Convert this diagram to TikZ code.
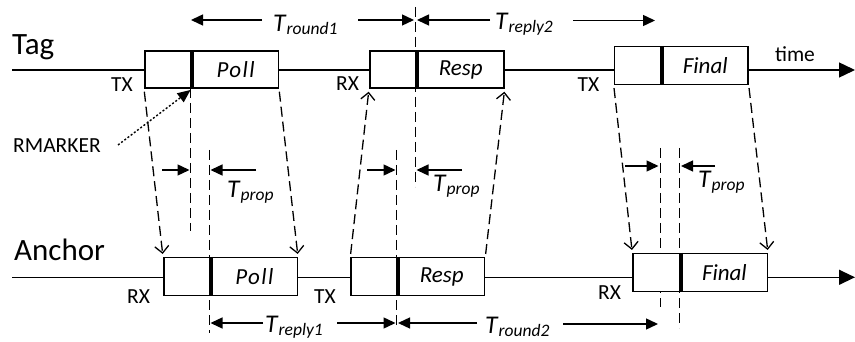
\documentclass[tikz,border=0pt]{standalone}
\usepackage{fontspec}
\setmainfont{Carlito}
\usetikzlibrary{arrows.meta}
\newcommand\Tlab[1]{\textit{T}\raisebox{-3pt}{\fontsize{17.5}{17.5}\selectfont\itshape #1}}
\newcommand\spaced[1]{{\addfontfeatures{LetterSpace=6}#1}}
\begin{document}
\begin{tikzpicture}[x=1pt,y=-1pt,
  timeaxis/.style={line width=1.4pt,-{Triangle[length=16pt,width=15pt]}},
  seg/.style={draw,line width=1.5pt,fill=white,inner sep=0pt,anchor=west,font=\fontsize{23}{23}\selectfont\itshape},
  divider/.style={line width=4pt},
  vdash/.style={line width=1.3pt,dash pattern=on 10pt off 5pt},
  sig/.style={line width=1.3pt,dash pattern=on 10pt off 5pt,shorten <=3pt,shorten >=3pt,-{Straight Barb[length=7pt,width=14pt,line width=1.3pt]}},
  meas/.style={line width=1.4pt,-{Triangle[length=12pt,width=11pt]}},
  dotarrow/.style={line width=1.4pt,dash pattern=on 2pt off 2pt,shorten >=2pt,-{Triangle[length=13pt,width=11pt]}},
  big/.style={font=\fontsize{31}{31}\selectfont,inner sep=0pt},
  small/.style={font=\fontsize{21.5}{21.5}\selectfont,inner sep=0pt},
  tlab/.style={font=\fontsize{25.5}{25.5}\selectfont,inner sep=0pt,anchor=base west},
]
\useasboundingbox (0,0) rectangle (855,342);

% time axes
\coordinate (tag0) at (12,70);
\coordinate (tagE) at (855,70);
\coordinate (anc0) at (12,277.3);
\coordinate (ancE) at (855,277.3);
\draw[timeaxis] (tag0) -- (tagE);
\draw[timeaxis] (anc0) -- (ancE);

% vertical dashed reference lines (drawn under the boxes)
\coordinate (d1t) at (190.7,88);
\coordinate (d1b) at (190.7,231);
\coordinate (d2t) at (209.3,150);
\coordinate (d2b) at (209.3,333);
\coordinate (d3t) at (415.3,7);
\coordinate (d3b) at (415.3,187);
\coordinate (d4t) at (396.7,150);
\coordinate (d4b) at (396.7,327);
\coordinate (d5t) at (660.3,148);
\coordinate (d5b) at (660.3,307);
\coordinate (d6t) at (679.3,148);
\coordinate (d6b) at (679.3,328);
\draw[vdash] (d1t) -- (d1b);
\draw[vdash] (d2t) -- (d2b);
\draw[vdash] (d3t) -- (d3b);
\draw[vdash] (d4t) -- (d4b);
\draw[vdash] (d5t) -- (d5b);
\draw[vdash] (d6t) -- (d6b);

% Tag boxes
\node[seg,minimum width=46.7pt,minimum height=37pt] (t1a) at (144,69.5) {};
\node[seg,minimum width=85.3pt,minimum height=37pt] (t1b) at (t1a.east) {\spaced{Poll}\hspace{4pt}};
\node[seg,minimum width=46.3pt,minimum height=37pt] (t2a) at (369,69.5) {};
\node[seg,minimum width=86.4pt,minimum height=37pt] (t2b) at (t2a.east) {Resp};
\node[seg,minimum width=46.6pt,minimum height=37.6pt] (t3a) at (613.7,65.5) {};
\node[seg,minimum width=85.4pt,minimum height=37.6pt] (t3b) at (t3a.east) {Final};
% Anchor boxes
\node[seg,minimum width=46.3pt,minimum height=38pt] (a1a) at (163,276.7) {};
\node[seg,minimum width=85.7pt,minimum height=38pt] (a1b) at (a1a.east) {\spaced{Poll}\hspace{4pt}};
\node[seg,minimum width=46.4pt,minimum height=38pt] (a2a) at (350.3,276.7) {};
\node[seg,minimum width=85.6pt,minimum height=38pt] (a2b) at (a2a.east) {Resp};
\node[seg,minimum width=47pt,minimum height=38pt] (a3a) at (632.3,272.7) {};
\node[seg,minimum width=85.7pt,minimum height=38pt] (a3b) at (a3a.east) {Final};

% RMARKER dividers
\foreach \b in {t1a,t2a,t3a,a1a,a2a,a3a}
  \draw[divider] (\b.north east) -- (\b.south east);

% signal propagation
\draw[sig] (t1a.south west) -- (a1a.north west);
\draw[sig] (t1b.south east) -- (a1b.north east);
\draw[sig] (a2a.north west) -- (t2a.south west);
\draw[sig] (a2b.north east) -- (t2b.south east);
\draw[sig] (t3a.south west) -- (a3a.north west);
\draw[sig] (t3b.south east) -- (a3b.north east);

% text labels
\node[big,anchor=base west] (tag) at (12,55) {Tag};
\node[big,anchor=base west] (anchor) at (14,261) {Anchor};
\node[small,anchor=base] (tx1) at (122,92) {TX};
\node[small,anchor=base] (rx2) at (347.5,91) {RX};
\node[small,anchor=base] (tx3) at (588.5,92) {TX};
\node[small,anchor=base] (rx1a) at (138.5,303) {RX};
\node[small,anchor=base] (tx2a) at (325,303) {TX};
\node[small,anchor=base] (rx3a) at (609.5,299) {RX};
\node[small,anchor=base] (time) at (795,62) {time};
\node[small,anchor=base west] (rm) at (13,153) {RMARKER};
\coordinate (rmS) at (118,145);
\draw[dotarrow] (rmS) -- (t1a.south east);

% measurement arrows
\coordinate (m1a) at (262,20);   \coordinate (m1b) at (191,20);
\coordinate (m1c) at (358,20);   \coordinate (m1d) at (414,20);
\coordinate (m2a) at (490,20);   \coordinate (m2b) at (417,20);
\coordinate (m2c) at (573,20.5); \coordinate (m2d) at (655,20.5);
\coordinate (p1a) at (162,170);  \coordinate (p1b) at (189.5,170);
\coordinate (p1c) at (256,170);  \coordinate (p1d) at (210.5,170);
\coordinate (p2a) at (367,170);  \coordinate (p2b) at (395.5,170);
\coordinate (p2c) at (462,170);  \coordinate (p2d) at (416.5,170);
\coordinate (p3a) at (625,166);  \coordinate (p3b) at (658.5,166);
\coordinate (p3c) at (715,166);  \coordinate (p3d) at (681,166);
\coordinate (b1a) at (263,323);  \coordinate (b1b) at (210.5,323);
\coordinate (b1c) at (337,323);  \coordinate (b1d) at (395.5,323);
\coordinate (b2a) at (477,323);  \coordinate (b2b) at (398,323);
\coordinate (b2c) at (563,324);  \coordinate (b2d) at (658,324);
\foreach \s/\e in {m1a/m1b,m1c/m1d,m2a/m2b,m2c/m2d,p1a/p1b,p1c/p1d,p2a/p2b,p2c/p2d,p3a/p3b,p3c/p3d,b1a/b1b,b1c/b1d,b2a/b2b,b2c/b2d}
  \draw[meas] (\s) -- (\e);

\node[tlab] (lr1) at (273,32) {\Tlab{round1}};
\node[tlab] (lrp2) at (495,30) {\Tlab{reply2}};
\node[tlab] (lp1) at (227,197) {\Tlab{prop}};
\node[tlab] (lp2) at (433,192) {\Tlab{prop}};
\node[tlab] (lp3) at (698,188) {\Tlab{prop}};
\node[tlab] (lrp1) at (265,332) {\Tlab{reply1}};
\node[tlab] (lr2) at (485,333) {\Tlab{round2}};
\end{tikzpicture}
\end{document}
